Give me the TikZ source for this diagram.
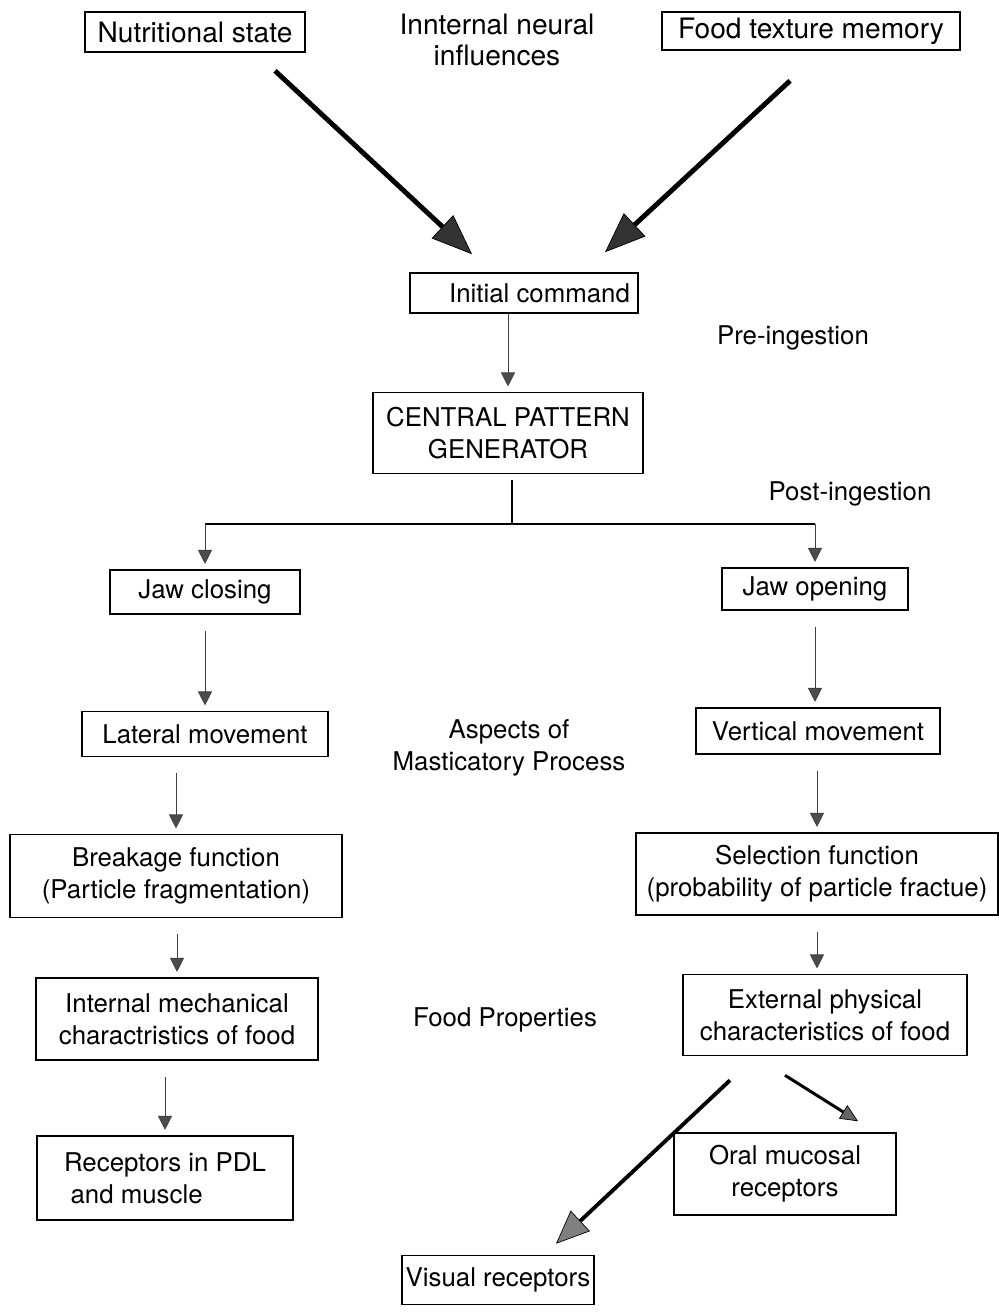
\documentclass[tikz,border=0pt]{standalone}
\usepackage{fontspec}
\setmainfont{TeX Gyre Heros}
\usetikzlibrary{arrows.meta}

\begin{document}
\begin{tikzpicture}[x=0.02cm,y=-0.02cm,
    caixa/.style={draw,line width=0.9pt,align=center,inner sep=2pt,
        font=\fontsize{14.7}{18.3}\selectfont},
    caixatopo/.style={caixa,font=\fontsize{16}{19}\selectfont},
    rotulo/.style={align=center,font=\fontsize{14.7}{18.3}\selectfont},
    fina/.style={draw=black!75,line width=0.5pt,shorten <=9pt,shorten >=3pt,
        -{Triangle[length=8pt,width=8pt,fill=black!70]}},
    grossa/.style={line width=2.8pt,
        -{Triangle[length=23pt,width=18pt,line width=0.4pt,fill=black!80]}},
    media/.style={line width=2.2pt,
        -{Triangle[length=19pt,width=16pt,line width=0.4pt,fill=black!50]}},
    pequena/.style={line width=1.7pt,
        -{Triangle[length=10pt,width=9pt,line width=0.4pt,fill=black!60]}}]
    \useasboundingbox (0,0) rectangle (999,1313);
    % Influencias
    \node[caixatopo,minimum width=4.4cm,minimum height=0.8cm] (nutri) at (195,32) {Nutritional state};
    \node[caixatopo,minimum width=5.96cm,minimum height=0.76cm] (memoria) at (811,31) {Food texture memory};
    \node[rotulo,font=\fontsize{16}{17.6}\selectfont] (neural) at (497,40) {Innternal neural\\influences};
    % Comando e gerador
    \node[caixa,minimum width=4.56cm,minimum height=0.8cm] (inicial) at (524,293) {\hspace{1.2em}Initial command};
    \node[caixa,minimum width=5.4cm,minimum height=1.62cm] (cpg) at (508,433) {CENTRAL PATTERN\\GENERATOR};
    \node[rotulo] (pre) at (793,338) {Pre-ingestion};
    \node[rotulo] (pos) at (850,494) {Post-ingestion};
    % Ramo esquerdo
    \node[caixa,minimum width=3.8cm,minimum height=0.88cm] (fecha) at (205,592) {Jaw closing};
    \node[caixa,minimum width=4.92cm,minimum height=0.9cm] (lateral) at (205,734) {Lateral movement};
    \node[caixa,minimum width=6.64cm,minimum height=1.66cm] (quebra) at (176,876) {Breakage function\\(Particle fragmentation)};
    \node[caixa,minimum width=5.64cm,minimum height=1.64cm] (interna) at (177,1019) {Internal mechanical\\charactristics of food};
    \node[caixa,minimum width=5.12cm,minimum height=1.68cm] (pdl) at (165,1178) {Receptors in PDL\\and muscle\hspace*{2.2em}};
    % Ramo direito
    \node[caixa,minimum width=3.72cm,minimum height=0.84cm] (abre) at (815,589) {Jaw opening};
    \node[caixa,minimum width=4.88cm,minimum height=0.92cm] (vertical) at (818,731) {Vertical movement};
    \node[caixa,minimum width=7.24cm,minimum height=1.64cm] (selecao) at (817,874) {Selection function\\(probability of particle fractue)};
    \node[caixa,minimum width=5.68cm,minimum height=1.62cm] (externa) at (825,1015) {External physical\\characteristics of food};
    \node[caixa,minimum width=4.44cm,minimum height=1.64cm] (mucosa) at (785,1174) {Oral mucosal\\receptors};
    \node[caixa,minimum width=3.68cm,minimum height=0.98cm] (visual) at (498,1280) {Visual receptors};
    % Rotulos do meio
    \node[rotulo] (aspectos) at (509,748) {Aspects of\\Masticatory Process};
    \node[rotulo] (propriedades) at (505,1020) {Food Properties};
    % Setas grossas
    \draw[grossa] ([shift={(80,18)}]nutri.south) -- ([shift={(-52,-18)}]inicial.north);
    \draw[grossa] ([shift={(-21,30)}]memoria.south) -- ([shift={(81,-20)}]inicial.north);
    \draw[media] ([shift={(-95,24)}]externa.south) -- ([shift={(58,-11)}]visual.north);
    \draw[pequena] ([shift={(-40,19)}]externa.south) -- ([shift={(73,-11)}]mucosa.north);
    % Setas finas
    \draw[fina,shorten <=0pt] (cpg.north |- inicial.south) -- (cpg.north);
    \draw[line width=0.6pt] ([shift={(4,6)}]cpg.south) -- ++(0,44) coordinate (bif);
    \draw[line width=1.3pt] (bif -| fecha.north) -- (bif -| abre.north);
    \foreach \alvo in {fecha,abre}
        \draw[fina,shorten <=0pt] (bif -| \alvo.north) -- (\alvo.north);
    \draw[fina] (fecha.south -| lateral.north) -- (lateral.north);
    \draw[fina] (abre.south) -- (abre.south |- vertical.north);
    \draw[fina] (lateral.south -| quebra.north) -- (quebra.north);
    \draw[fina] (vertical.south -| selecao.north) -- (selecao.north);
    \draw[fina] (quebra.south -| interna.north) -- (interna.north);
    \draw[fina] (selecao.south) -- (selecao.south |- externa.north);
    \draw[fina] (interna.south -| pdl.north) -- (pdl.north);
\end{tikzpicture}
\end{document}
